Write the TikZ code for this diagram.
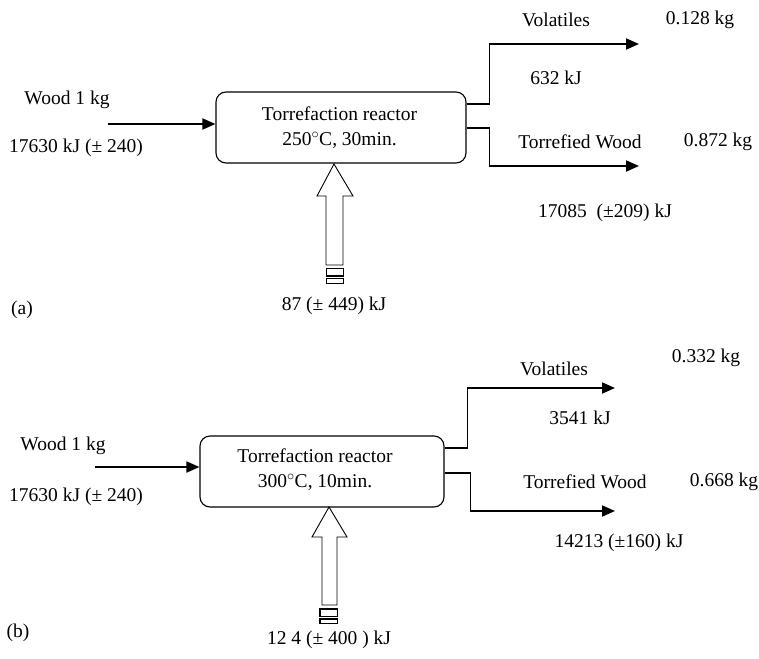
\documentclass[tikz,border=0pt]{standalone}
\usepackage{fontspec}
\setmainfont{Liberation Serif}
\usetikzlibrary{arrows.meta,calc}
\begin{document}
\begin{tikzpicture}[x=1pt,y=-1pt,
  lbl/.style={font=\fontsize{19.5}{23}\selectfont, inner sep=0pt, anchor=center},
  boxtext/.style={font=\fontsize{19.5}{25}\selectfont, inner sep=0pt, anchor=center, align=center},
  reactor/.style={draw, line width=1.1pt, rounded corners=10pt, inner sep=0pt},
  flow/.style={line width=1.8pt, -{Triangle[length=13pt,width=11pt]}},
  hollow/.style={draw, line width=0.9pt, fill=white},
  plug/.style={draw, line width=1.5pt}]
\useasboundingbox (0,0) rectangle (759,658);
% ---------------- panel (a)
\node[reactor, minimum width=250pt, minimum height=71pt] (ra) at (341,127.5) {};
\node[boxtext] (ra1) at (339.5,128) {Torrefaction reactor\\250$^{\circ}$C, 30min.};
\node[lbl] (wa) at (67,100) {Wood 1 kg};
\node[lbl] (ea) at (76,148) {17630 kJ (± 240)};
\node[lbl] (va) at (556,20) {Volatiles};
\node[lbl] (mva) at (700,20) {0.128 kg};
\node[lbl] (eva) at (556,78) {632 kJ};
\node[lbl] (ta) at (580,142) {Torrefied Wood};
\node[lbl] (mta) at (718,142) {0.872 kg};
\node[lbl] (eta) at (605,213) {17085~~(±209) kJ};
\node[lbl] (qa) at (334,306) {87 (± 449) kJ};
\node[lbl] (la) at (22,310) {(a)};
\coordinate (ina) at (108,124);
\coordinate (vouta) at (639,44);
\coordinate (touta) at (639,166);
\draw[flow] (ina) -- (ina -| ra.west);
\draw[flow] ($(ra.east)+(0,-23.5)$) -- ++(23,0) |- (vouta);
\draw[flow] ($(ra.east)+(0,0.5)$) -- ++(23,0) |- (touta);
\path[hollow] (334,164) -- (353,196) -- (343,196) -- (343,265) -- (326,265) -- (326,196) -- (317,196) -- cycle;
\draw[plug] (326.5,268.5) rectangle (343.5,276);
\draw[plug] (326.5,278.5) rectangle (343.5,283.5);
% ---------------- panel (b)
\node[reactor, minimum width=244pt, minimum height=71pt] (rb) at (322,471.5) {};
\node[boxtext] (rb1) at (315,470) {Torrefaction reactor\\300$^{\circ}$C, 10min.};
\node[lbl] (wb) at (63,446) {Wood 1 kg};
\node[lbl] (eb) at (76,497) {17630 kJ (± 240)};
\node[lbl] (vb) at (554,369) {Volatiles};
\node[lbl] (mvb) at (706,358) {0.332 kg};
\node[lbl] (evb) at (580,418) {3541 kJ};
\node[lbl] (tb) at (585,482) {Torrefied Wood};
\node[lbl] (mtb) at (724,482) {0.668 kg};
\node[lbl] (etb) at (619,543) {14213 (±160) kJ};
\node[lbl] (qb) at (329,640) {12 4 (± 400 ) kJ};
\node[lbl] (lb) at (18,633) {(b)};
\coordinate (inb) at (95,467);
\coordinate (voutb) at (615,388);
\coordinate (toutb) at (615,511);
\draw[flow] (inb) -- (inb -| rb.west);
\draw[flow] ($(rb.east)+(0,-23.5)$) -- ++(23,0) |- (voutb);
\draw[flow] ($(rb.east)+(0,1.5)$) -- ++(26,0) |- (toutb);
\path[hollow] (329,507) -- (347,537) -- (337,537) -- (337,605) -- (322,605) -- (322,537) -- (312,537) -- cycle;
\draw[plug] (320,609) rectangle (337.5,616.5);
\draw[plug] (320,619) rectangle (337.5,623.5);
\end{tikzpicture}
\end{document}
